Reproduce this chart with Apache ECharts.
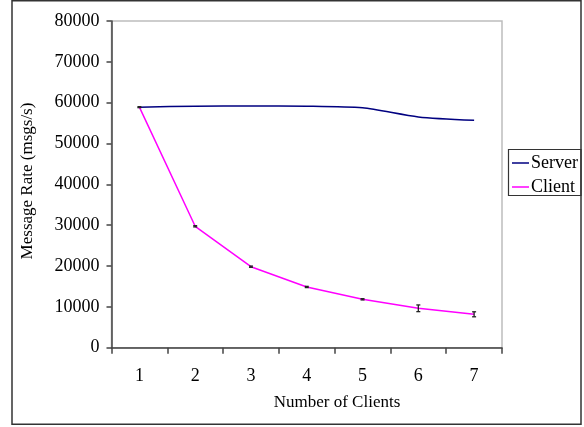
<!DOCTYPE html>
<html>
<head>
<meta charset="utf-8">
<script src="https://cdn.jsdelivr.net/npm/echarts@6/dist/echarts.min.js"></script>
<style>
html,body{margin:0;padding:0;background:#fff;}
#chart{width:584px;height:427px;}
</style>
</head>
<body>
<div id="chart"></div>
<script>
const categories = ['1', '2', '3', '4', '5', '6', '7'];
const serverRate = [58900, 59150, 59200, 59150, 58730, 56500, 55670];
const clientRate = [58900, 29730, 19840, 14870, 11850, 9650, 8180];
const clientErr = [120, 150, 150, 150, 150, 820, 610];
const seriesNames = ['Server', 'Client'];
const xTitle = 'Number of Clients';
const yTitle = 'Message Rate (msgs/s)';

const FONT = '"Liberation Serif", "Times New Roman", serif';
const chart = echarts.init(document.getElementById('chart'), null, {renderer: 'canvas'});

const errData = categories.map((c, i) => [i, clientRate[i] - clientErr[i], clientRate[i] + clientErr[i]]);

chart.setOption({
  animation: false,
  backgroundColor: '#fff',
  grid: {left: 111.5, top: 21, width: 390.5, height: 326.7, show: true, borderColor: '#bdbdbd', borderWidth: 1.5, backgroundColor: 'transparent'},
  legend: {
    orient: 'vertical', left: 512, top: 154,
    itemWidth: 17, itemHeight: 1.5, itemGap: 6, icon: 'rect',
    padding: 0,
    textStyle: {fontFamily: FONT, fontSize: 18, color: '#000', padding: [0, 0, 0, -3], lineHeight: 17},
    data: seriesNames
  },
  xAxis: {
    type: 'category', data: categories, boundaryGap: true,
    axisLine: {lineStyle: {color: '#444', width: 1.5}},
    axisTick: {show: true, length: 6, inside: false, lineStyle: {color: '#444', width: 1.5}},
    axisLabel: {fontFamily: FONT, fontSize: 18, color: '#000', margin: 20},
    splitLine: {show: false}
  },
  yAxis: {
    type: 'value', min: 0, max: 80000, interval: 10000,
    axisLine: {show: true, lineStyle: {color: '#444', width: 1.5}},
    axisTick: {show: true, length: 5, lineStyle: {color: '#444', width: 1.5}},
    axisLabel: {fontFamily: FONT, fontSize: 18, color: '#000', margin: 12, formatter: v => String(v)},
    splitLine: {show: false}
  },
  series: [
    {name: seriesNames[0], type: 'line', data: serverRate, symbol: 'none', smooth: 0.25,
     lineStyle: {color: '#000080', width: 1.5}, itemStyle: {color: '#000080'}},
    {name: seriesNames[1], type: 'line', data: clientRate, symbol: 'none',
     lineStyle: {color: '#ff00ff', width: 1.5}, itemStyle: {color: '#ff00ff'}},
    {type: 'custom', data: errData, z: 5,
     renderItem: function (params, api) {
       const x = api.value(0);
       const lo = api.coord([x, api.value(1)]);
       const hi = api.coord([x, api.value(2)]);
       const w = 2;
       return {type: 'group', children: [
         {type: 'line', shape: {x1: lo[0], y1: lo[1], x2: hi[0], y2: hi[1]}, style: {stroke: '#222', lineWidth: 1.3}},
         {type: 'line', shape: {x1: lo[0] - w, y1: lo[1], x2: lo[0] + w, y2: lo[1]}, style: {stroke: '#222', lineWidth: 1.3}},
         {type: 'line', shape: {x1: hi[0] - w, y1: hi[1], x2: hi[0] + w, y2: hi[1]}, style: {stroke: '#222', lineWidth: 1.3}}
       ]};
     }}
  ],
  graphic: [
    {type: 'rect', shape: {x: 12, y: 0.75, width: 569, height: 423.5}, style: {fill: 'none', stroke: '#333', lineWidth: 1.5}, silent: true, z: 100},
    {type: 'rect', shape: {x: 508.5, y: 149.5, width: 72.5, height: 46}, style: {fill: 'none', stroke: '#333', lineWidth: 1.2}, silent: true, z: 100},
    {type: 'text', x: 337, y: 403, style: {text: xTitle, fontFamily: FONT, fontSize: 17, fill: '#000', align: 'center', verticalAlign: 'middle'}},
    {type: 'text', x: 28, y: 181, rotation: Math.PI / 2, style: {text: yTitle, fontFamily: FONT, fontSize: 17, fill: '#000', align: 'center', verticalAlign: 'middle'}}
  ]
});
</script>
</body>
</html>
